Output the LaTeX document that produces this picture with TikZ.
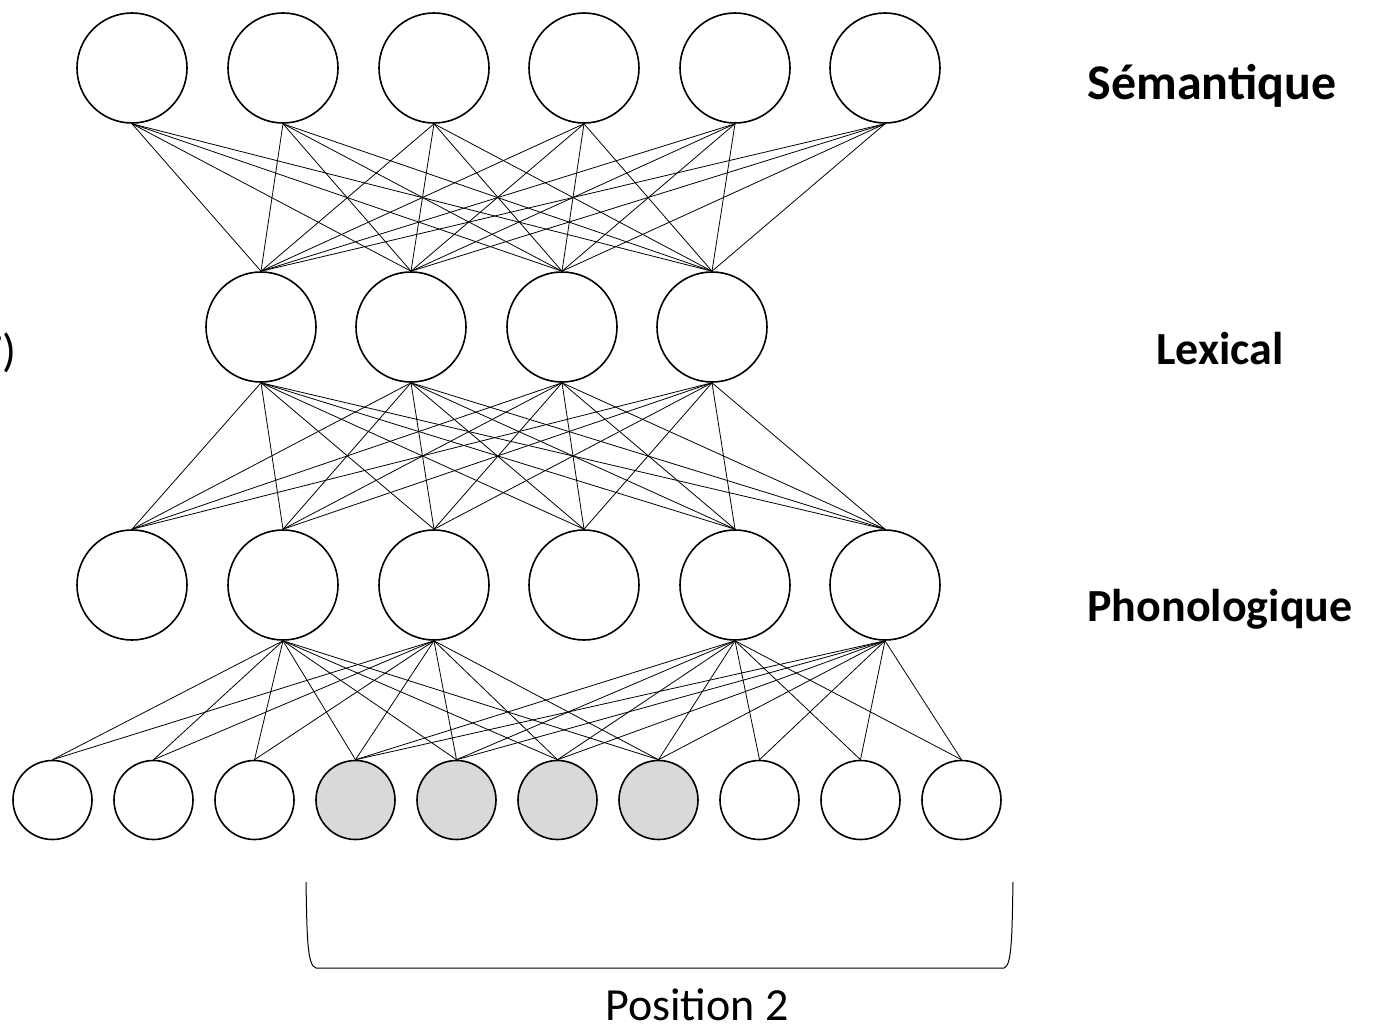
\documentclass[tikz,border=0pt]{standalone}
\usepackage{fontspec}
\setmainfont{Carlito}
\begin{document}
\begin{tikzpicture}[x=1pt,y=-1pt,
  unit/.style={circle,draw,line width=1.6pt,inner sep=0pt,minimum size=110pt},
  small/.style={circle,draw,line width=1.6pt,inner sep=0pt,minimum size=79pt},
  active/.style={small,fill=black!15},
  link/.style={line width=0.8pt},
  layer/.style={font=\fontsize{46}{55}\selectfont\bfseries,anchor=base,inner sep=0pt},
  caption/.style={font=\fontsize{46}{55}\selectfont,anchor=base,inner sep=0pt}]
\useasboundingbox (0,0) rectangle (1377,1036);

% semantic layer
\foreach \i/\x in {1/132,2/283,3/434,4/584,5/735,6/885}
  \node[unit] (s\i) at (\x,68) {};
% lexical layer
\foreach \i/\x in {1/261,2/411,3/562,4/712}
  \node[unit] (l\i) at (\x,327) {};
% phonological layer
\foreach \i/\x in {1/132,2/283,3/434,4/584,5/735,6/885}
  \node[unit] (p\i) at (\x,585) {};
% positional input units
\foreach \i/\x in {1/52.5,2/153.5,3/254.5,8/759.5,9/860.5,10/961.5}
  \node[small] (b\i) at (\x,800) {};
\foreach \i/\x in {4/355.5,5/456.5,6/557.5,7/658.5}
  \node[active] (b\i) at (\x,800) {};

% full connections semantic <-> lexical
\foreach \i in {1,...,6}
  \foreach \j in {1,...,4}
    \draw[link] (s\i.south) -- (l\j.north);
% full connections lexical <-> phonological
\foreach \i in {1,...,4}
  \foreach \j in {1,...,6}
    \draw[link] (l\i.south) -- (p\j.north);
% phonological units to positional units
\foreach \i in {2,3}
  \foreach \j in {1,...,7}
    \draw[link] (p\i.south) -- (b\j.north);
\foreach \i in {5,6}
  \foreach \j in {4,...,10}
    \draw[link] (p\i.south) -- (b\j.north);

% bracket under the position window
\coordinate (bl) at (306,882);
\coordinate (br) at (1013,882);
\draw[line width=1pt] (bl) .. controls (307,935) and (307,966) .. (316,968)
  -- (1004,968) .. controls (1012,966) and (1012,935) .. (br);

% labels
\node[layer,font=\fontsize{50}{60}\selectfont\bfseries] (tsem) at (1212,99) {Sémantique};
\node[layer] (tlex) at (1220,364) {Lexical};
\node[layer] (tpho) at (1220,621) {Phonologique};
\node[caption] (tpos) at (697,1020) {Position 2};
\node[caption,anchor=base east] (tnum) at (17,366) {7)};
\end{tikzpicture}
\end{document}
